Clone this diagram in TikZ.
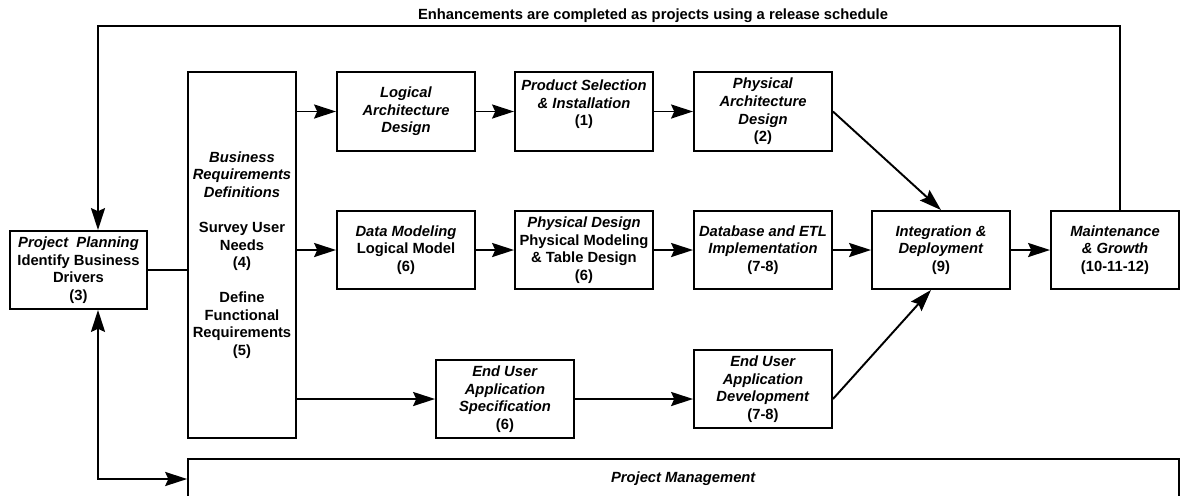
\documentclass[tikz,border=0pt]{standalone}
\usepackage{fontspec}
\setmainfont{Liberation Sans}
\usepackage{tikz}
\usetikzlibrary{arrows.meta,positioning,calc}

\tikzset{
  stagebox/.style={draw, line width=1.1pt, align=center, inner sep=1pt,
    minimum width=2.76cm, minimum height=1.56cm,
    font=\bfseries\fontsize{8.4}{10}\selectfont},
  flow/.style={line width=1.1pt, -{Stealth[length=12.5pt, width=8pt, inset=1.8pt]}},
  bothflow/.style={line width=1.1pt, {Stealth[length=12.5pt, width=8pt, inset=1.8pt]}-{Stealth[length=12.5pt, width=8pt, inset=1.8pt]}},
  plainline/.style={line width=1.1pt}
}

\begin{document}
\begin{tikzpicture}[x=0.02cm, y=-0.02cm]
	\clip (0,0) rectangle (1180,495);
	% left column
	\node[stagebox, minimum width=2.74cm] (plan) at (78.5,270) {\textit{Project\ \ Planning}\\Identify Business\\Drivers\\(3)};
	\node[stagebox, minimum width=2.16cm, minimum height=7.32cm] (bus) at (242,255) {\textit{Business}\\\textit{Requirements}\\\textit{Definitions}\\[10pt]Survey User\\Needs\\(4)\\[10pt]Define\\Functional\\Requirements\\(5)};
	
	% top row
	\node[stagebox, minimum height=1.58cm] (log) at (406,111.5) {\textit{Logical}\\\textit{Architecture}\\\textit{Design}};
	\node[stagebox, minimum height=1.58cm] (prod) at (584,111.5) {\textit{Product Selection}\\\textit{\& Installation}\\(1)\\\mbox{}};
	\node[stagebox, minimum height=1.58cm] (phys) at (763,111.5) {\textit{Physical}\\\textit{Architecture}\\\textit{Design}\\(2)};
	
	% middle row
	\node[stagebox] (dat) at (406,250) {\textit{Data Modeling}\\Logical Model\\(6)};
	\node[stagebox] (pd) at (584,250) {\textit{Physical Design}\\Physical Modeling\\\& Table Design\\(6)};
	\node[stagebox] (db) at (763,250) {\textit{Database and ETL}\\\textit{Implementation}\\(7-8)};
	\node[stagebox] (int) at (941,250) {\textit{Integration \&}\\\textit{Deployment}\\(9)};
	\node[stagebox, minimum width=2.56cm] (mnt) at (1115,250) {\textit{Maintenance}\\\textit{\& Growth}\\(10-11-12)};
	
	% bottom row
	\node[stagebox] (spec) at (505,399) {\textit{End User}\\\textit{Application}\\\textit{Specification}\\(6)};
	\node[stagebox] (dev) at (763,389) {\textit{End User}\\\textit{Application}\\\textit{Development}\\(7-8)};
	\node[stagebox, minimum width=19.82cm, minimum height=0.8cm] (pm) at (683.5,479) {\textit{Project Management}};
	
	% feedback loop
	\coordinate (fb) at (98,26);
	\node[font=\bfseries\fontsize{8.4}{10}\selectfont] (enh) at (653,16) {Enhancements are completed as projects using a release schedule};
	
	\draw[plainline] (plan.east) -- (plan.east -| bus.west);
	\draw[flow] (log.west -| bus.east) -- (log.west);
	\draw[flow] (dat.west -| bus.east) -- (dat.west);
	\draw[flow] (spec.west -| bus.east) -- (spec.west);
	\draw[flow] (log) -- (prod);
	\draw[flow] (prod) -- (phys);
	\draw[flow] (dat) -- (pd);
	\draw[flow] (pd) -- (db);
	\draw[flow] (db) -- (int);
	\draw[flow] (int) -- (mnt);
	\draw[flow] (spec.east) -- (spec.east -| dev.west);
	\draw[flow] (phys.east) -- (int.north);
	\draw[flow] (spec.east -| dev.east) -- ([xshift=-0.2cm]int.south);
	\draw[flow] ([xshift=0.1cm]mnt.north) |- (fb) -- (fb |- plan.north);
	\draw[bothflow] (fb |- plan.south) |- (pm.west);
\end{tikzpicture}
\end{document}
